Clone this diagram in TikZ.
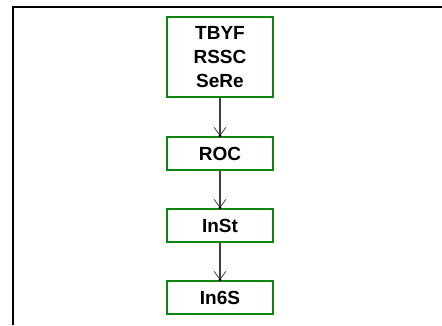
\documentclass[tikz,border=0pt]{standalone}
\usepackage{fontspec}
\setmainfont{Liberation Sans}
\usetikzlibrary{arrows.meta}
\definecolor{boxgreen}{RGB}{16,134,16}
\definecolor{linkgray}{RGB}{64,64,64}
\tikzset{
  stagebox/.style={draw=boxgreen, line width=2.4pt, fill=white,
    minimum width=105.6pt, minimum height=32.6pt, inner sep=0pt,
    align=center, font=\fontsize{19}{24}\selectfont\bfseries},
  link/.style={draw=linkgray, line width=1.4pt,
    -{Straight Barb[length=8pt,width=12pt,line width=0.8pt]}},
}
\begin{document}
\begin{tikzpicture}[x=1pt,y=-1pt]
  \useasboundingbox (0,0) rectangle (442,325);
  % outer frame, open at the right and bottom
  \draw[line width=2.2pt] (13,325) -- (13,7) -- (442,7);

  \node[stagebox, minimum height=79.6pt] (top) at (220,57) {TBYF\\RSSC\\SeRe};
  \node[stagebox] (roc)  at (220,153.5) {ROC};
  \node[stagebox] (inst) at (220,225.5) {InSt};
  \node[stagebox] (in6s) at (220,297.5) {In6S};

  \draw[link] (top.south)  -- (roc.north);
  \draw[link] (roc.south)  -- (inst.north);
  \draw[link] (inst.south) -- (in6s.north);

  \foreach \n in {roc,inst,in6s}
    \fill[black] (\n.north) circle[radius=1.6pt];
\end{tikzpicture}
\end{document}
